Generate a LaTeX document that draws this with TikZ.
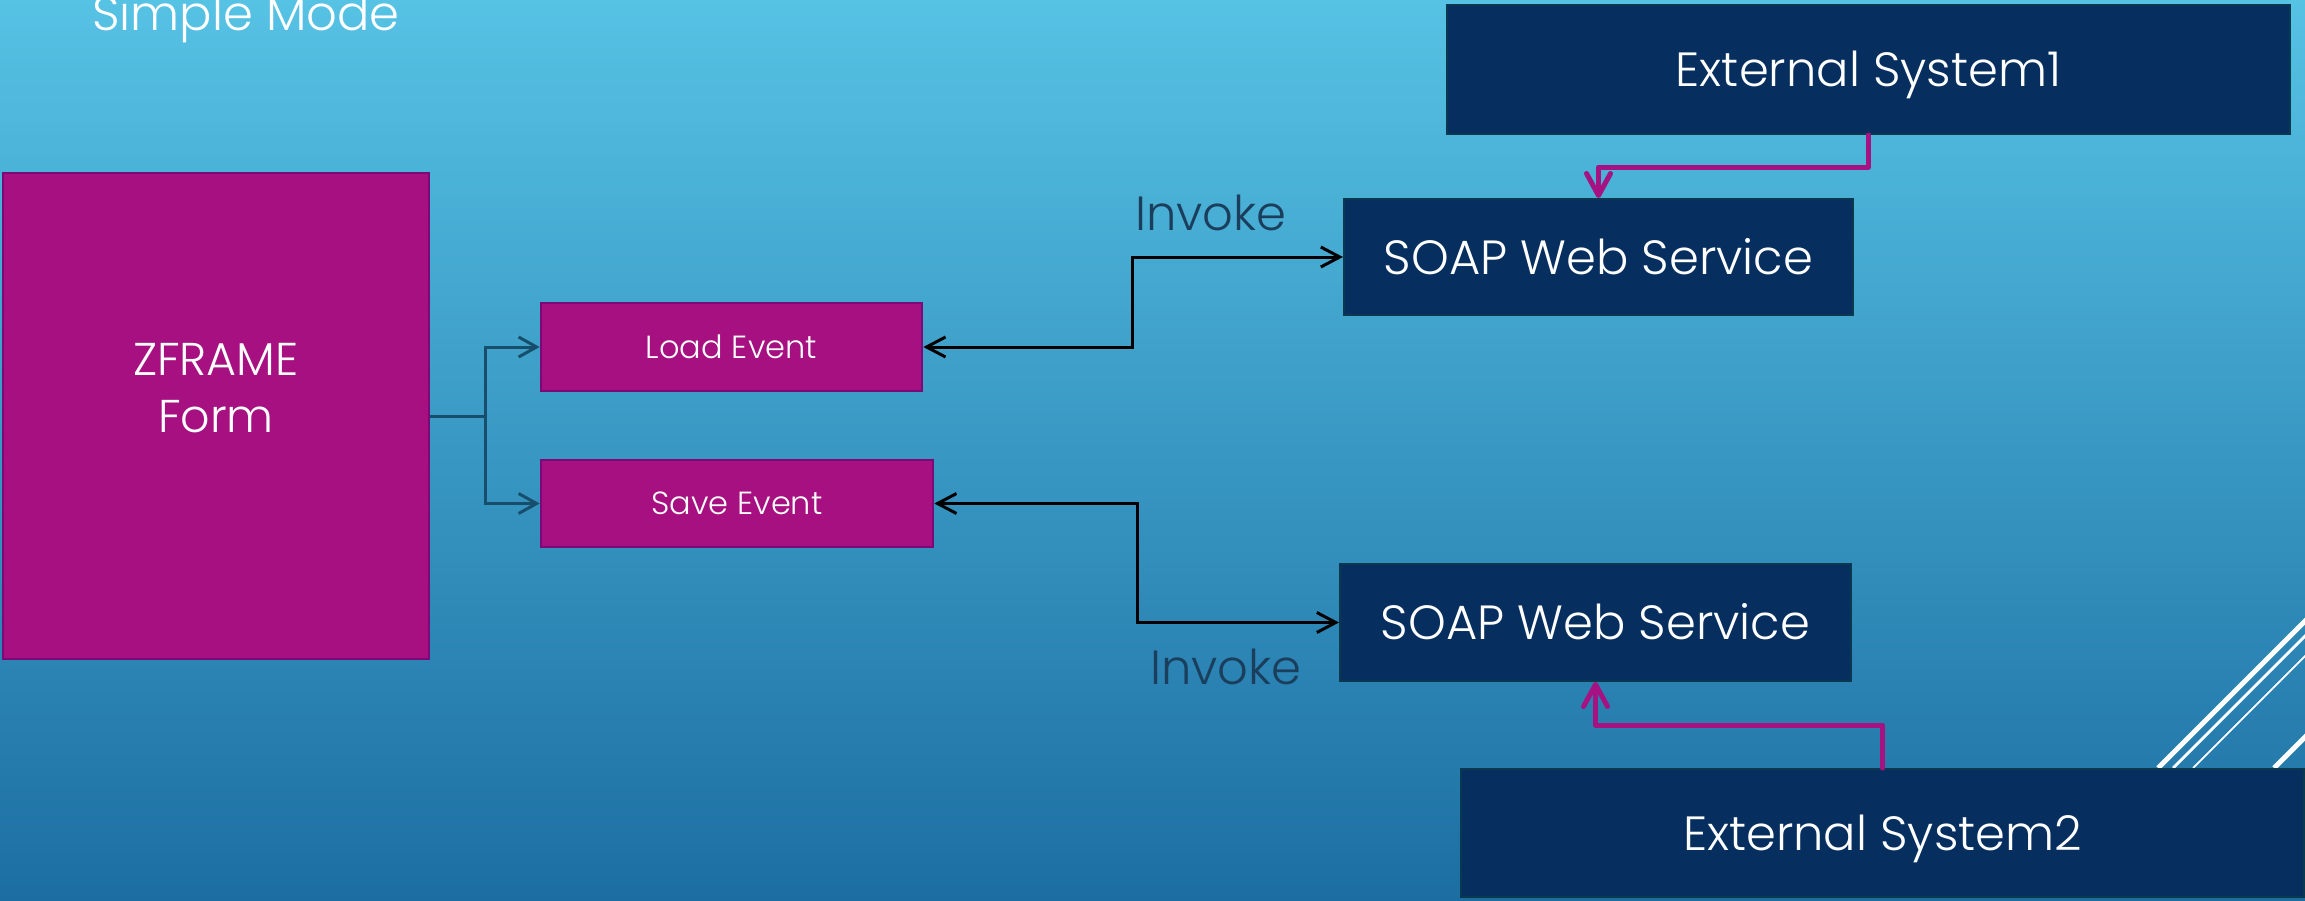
\documentclass[tikz,border=0pt]{standalone}
\usepackage{fontspec}
\setmainfont{Poppins Light}
\usetikzlibrary{arrows.meta}
\definecolor{bgtop}{RGB}{86,194,228}
\definecolor{bgbot}{RGB}{28,110,162}
\definecolor{mag}{RGB}{166,16,128}
\definecolor{magborder}{RGB}{122,10,120}
\definecolor{navy}{RGB}{6,46,94}
\definecolor{navyborder}{RGB}{10,56,78}
\definecolor{forkc}{RGB}{22,78,108}
\definecolor{invokec}{RGB}{26,62,92}
\definecolor{linkmag}{RGB}{166,18,130}
\begin{document}
\begin{tikzpicture}[x=0.5pt,y=-0.5pt,
  magbox/.style={draw=magborder,line width=1.3pt,fill=mag,text=white,inner sep=0pt},
  navybox/.style={draw=navyborder,line width=1pt,fill=navy,text=white,inner sep=0pt,font=\fontsize{24}{28}\selectfont,text height=17pt,text depth=0pt},
  evtxt/.style={font=\fontsize{16}{19}\selectfont,text height=11.2pt,text depth=0pt},
  forkline/.style={draw=forkc,line width=1.5pt,-{Straight Barb[length=9pt,width=10pt,line width=1.5pt]}},
  invline/.style={draw=black,line width=1.5pt,{Straight Barb[length=9.5pt,width=10pt,line width=1.5pt]}-{Straight Barb[length=9.5pt,width=10pt,line width=1.5pt]}},
  extline/.style={draw=linkmag,line width=2.5pt,line cap=round,line join=round,-{Straight Barb[length=11pt,width=12pt,line width=2.5pt,round]}},
  invoketxt/.style={text=invokec,inner sep=0pt,font=\fontsize{24}{28}\selectfont}
]
\useasboundingbox (0,0) rectangle (2305,900);
\shade[top color=bgtop,bottom color=bgbot] (0,0) rectangle (2305,900);
% decorative diagonal lines
\begin{scope}
\clip (0,0) rectangle (2305,900);
\draw[white,line width=2.5pt] (2158,768) -- (2420,506);
\draw[white,line width=1.4pt] (2173,768) -- (2420,521);
\draw[white,line width=0.9pt] (2193,768) -- (2420,541);
\draw[white,line width=2.5pt] (2274,768) -- (2420,622);
\end{scope}
% title
\node[anchor=base west,text=white,inner sep=0pt,font=\fontsize{24}{28}\selectfont] (title) at (92,30) {Simple Mode};
% boxes
\node[magbox,minimum width=213pt,minimum height=243pt] (zf) at (216,416) {};
\node[text=white,align=center,inner sep=0pt,font=\fontsize{23}{28.5}\selectfont] (zft) at (216,388) {ZFRAME\\Form};
\node[magbox,evtxt,minimum width=190.5pt,minimum height=44pt] (load) at (731.5,347) {Load Event};
\node[magbox,evtxt,minimum width=196pt,minimum height=43.5pt] (save) at (737,503.5) {Save Event};
\node[navybox,minimum width=254.5pt,minimum height=58pt] (soap1) at (1598.5,257) {SOAP Web Service};
\node[navybox,minimum width=255.5pt,minimum height=58.5pt] (soap2) at (1595.5,622.5) {SOAP Web Service};
\node[navybox,minimum width=421.5pt,minimum height=64.5pt] (ext1) at (1868.5,69.5) {External System1};
\node[navybox,minimum width=421.5pt,minimum height=64pt] (ext2) at (1882.5,833) {External System2};
% labels
\node[invoketxt] (inv1) at (1211,213) {Invoke};
\node[invoketxt] (inv2) at (1226,667) {Invoke};
% fork connectors
\coordinate (fk) at (485,416);
\draw[draw=forkc,line width=1.5pt] (zf.east) -- (fk);
\draw[forkline] (fk) |- (load.west);
\draw[forkline] (fk) |- (save.west);
% invoke connectors
\coordinate (m1) at (1132,0);
\coordinate (m2) at (1137,0);
\draw[invline] (load.east) -- (m1 |- load.east) -- (m1 |- soap1.west) -- (soap1.west);
\draw[invline] (save.east) -- (m2 |- save.east) -- (m2 |- soap2.west) -- (soap2.west);
% external connectors
\coordinate (h1) at (0,167);
\coordinate (h2) at (0,725);
\draw[extline] (ext1.south) -- (ext1.south |- h1) -- (soap1.north |- h1) -- (soap1.north);
\draw[extline] (ext2.north) -- (ext2.north |- h2) -- (soap2.south |- h2) -- (soap2.south);
\end{tikzpicture}
\end{document}
